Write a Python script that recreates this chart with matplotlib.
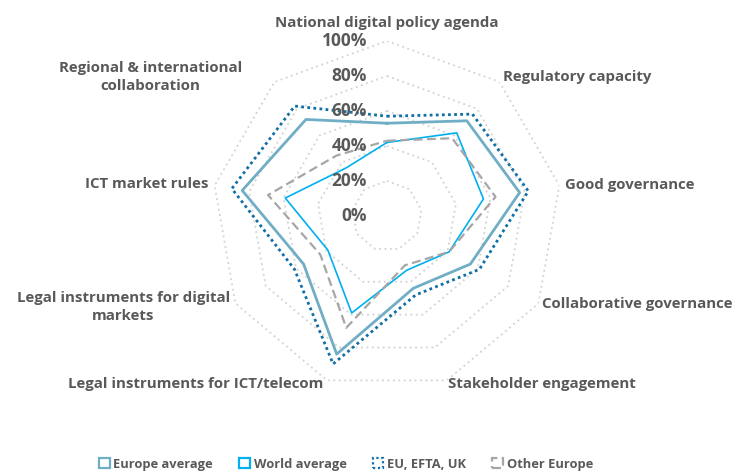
import numpy as np
import matplotlib
matplotlib.use("Agg")
import matplotlib.pyplot as plt
from matplotlib.patches import Patch
from matplotlib.transforms import offset_copy

plt.rcParams["font.family"] = ["Open Sans", "DejaVu Sans"]

# Data (percent of maximum score), clockwise from the top
categories = [
    "National digital policy agenda",
    "Regulatory capacity",
    "Good governance",
    "Collaborative governance",
    "Stakeholder engagement",
    "Legal instruments for ICT/telecom",
    "Legal instruments for digital\nmarkets",
    "ICT market rules",
    "Regional & international\ncollaboration",
]
europe_avg = [53, 71, 77, 55, 44, 84, 55, 84, 72]
world_avg = [42, 62, 56, 41, 33, 59, 39, 59, 36]
eu_efta_uk = [57, 76, 82, 61, 48, 90, 61, 90, 82]
other_europe = [43, 58, 63, 41, 30, 68, 44, 69, 45]
ring_levels = [20, 40, 60, 80, 100]
tick_labels = ["0%", "20%", "40%", "60%", "80%", "100%"]

TEXT = "#595959"
GRID = "#d2d2d2"


def generate_chart():

    n = len(categories)
    angles = np.linspace(0, 2 * np.pi, n, endpoint=False)
    closed = np.append(angles, angles[0])

    fig = plt.figure(figsize=(7.44, 4.73), dpi=100)
    ax = fig.add_axes([0.2849, 0.1734, 0.4704, 0.74], projection="polar")
    ax.set_theta_zero_location("N")
    ax.set_theta_direction(-1)
    ax.set_ylim(0, 100)
    ax.grid(False)
    ax.spines["polar"].set_visible(False)
    ax.set_xticks([])
    ax.set_yticks([])
    ax.patch.set_alpha(0)

    # polygon grid rings
    for level in ring_levels:
        ax.plot(closed, [level] * (n + 1), color=GRID, lw=1.3,
                linestyle=(0, (1, 2)), zorder=1)

    series = [
        (europe_avg, "Europe average", "#70aec6", "-", 2.0),
        (world_avg, "World average", "#00b0f0", "-", 1.2),
        (eu_efta_uk, "EU, EFTA, UK", "#0f6ea6", (0, (1, 1.2)), 2.0),
        (other_europe, "Other Europe", "#a6a6a6", (0, (4, 2)), 1.6),
    ]
    handles = []
    for values, label, color, ls, lw in series:
        vals = np.append(values, values[0])
        ax.plot(closed, vals, color=color, linestyle=ls, lw=lw, zorder=3)
        handles.append(Patch(facecolor="none", edgecolor=color,
                             linestyle=ls, linewidth=1.6, label=label))

    # radial tick labels along the top spoke
    shifted = offset_copy(ax.transData, fig=fig, x=-20, y=0, units="dots")
    for i, lab in enumerate(tick_labels):
        ax.text(0, i * 20, lab, transform=shifted, ha="right", va="center",
                fontsize=12.5, fontweight="bold", color=TEXT, zorder=5)

    # category labels: (angle deg, radius, ha, va)
    label_pos = [
        (0, 110.5, "center", "center"),
        (40, 103.5, "left", "center"),
        (80, 103.5, "left", "center"),
        (119.4, 102, "left", "center"),
        (160, 102, "left", "center"),
        (200.8, 102.7, "right", "center"),
        (240, 103.7, "right", "center"),
        (280, 103.8, "right", "center"),
        (313.8, 114.8, "right", "center"),
    ]
    for cat, (deg, r, ha, va) in zip(categories, label_pos):
        ax.text(np.deg2rad(deg), r, cat, ha=ha, va=va, ma="center",
                fontsize=10.8, fontweight="bold", color=TEXT,
                linespacing=1.35, clip_on=False)

    fig.legend(
        handles=handles,
        loc="center",
        bbox_to_anchor=(0.465, 0.019),
        ncol=4,
        frameon=False,
        handlelength=0.85,
        handleheight=0.85,
        handletextpad=0.3,
        columnspacing=2.0,
        prop={"size": 9.3, "weight": "bold"},
        labelcolor=TEXT,
    )

    fig.savefig("out.png", dpi=100)


if __name__ == "__main__":

    generate_chart()
